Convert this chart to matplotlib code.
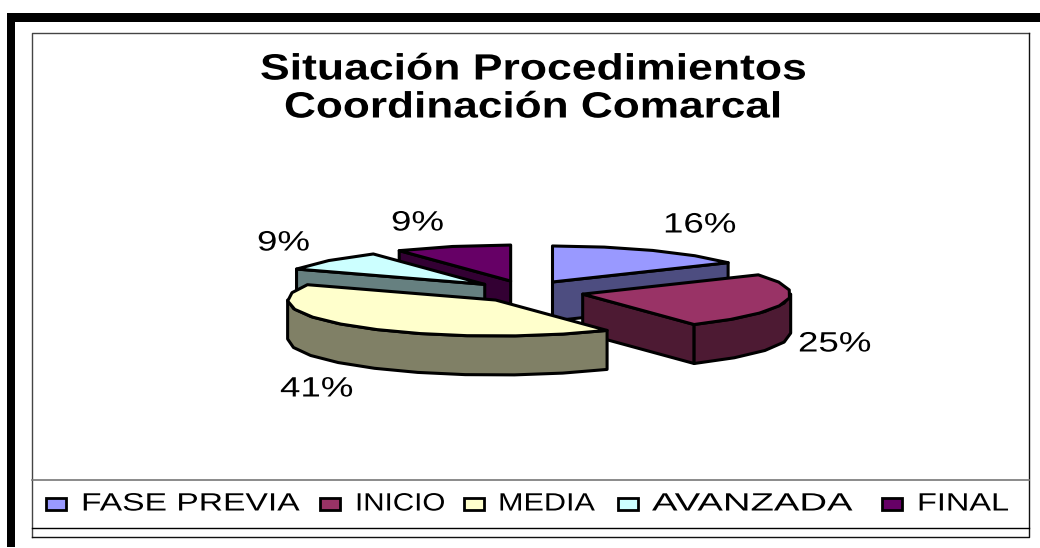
import numpy as np
import matplotlib
matplotlib.use("Agg")
import matplotlib.pyplot as plt
from matplotlib.patches import Polygon, Rectangle
from matplotlib.patheffects import AbstractPathEffect
from matplotlib.transforms import Affine2D

plt.rcParams['font.family'] = ['Liberation Sans', 'DejaVu Sans']

categories = ["FASE PREVIA", "INICIO", "MEDIA", "AVANZADA", "FINAL"]
values = [16, 25, 41, 9, 9]
percent_labels = ["16%", "25%", "41%", "9%", "9%"]
title_lines = ["Situación Procedimientos", "Coordinación Comarcal"]
top_colors = ["#9999FF", "#993366", "#FFFFCC", "#CCFFFF", "#660066"]
side_colors = ["#4D4D80", "#4D1A33", "#808066", "#668080", "#330033"]

W, H = 1040, 548
fig = plt.figure(figsize=(W / 100, H / 100), dpi=100)
ax = fig.add_axes([0, 0, 1, 1])
ax.set_xlim(0, W)
ax.set_ylim(H, 0)
ax.axis("off")


class HStretch(AbstractPathEffect):
    def __init__(self, sx):
        super().__init__()
        self.sx = sx

    def draw_path(self, renderer, gc, tpath, affine, rgbFace=None):
        renderer.draw_path(gc, tpath, Affine2D().scale(self.sx, 1) + affine, rgbFace)


def label(x, y, s, px, sx, weight="normal"):
    ax.text(x, y, s, fontsize=px * 0.72, fontweight=weight, ha="left", va="baseline",
            color="black", path_effects=[HStretch(sx)], zorder=20)


# frame
ax.add_patch(Rectangle((7, 13), W - 7, 9, fc="black", ec="none", zorder=1))
ax.add_patch(Rectangle((7, 13), 8, 534, fc="black", ec="none", zorder=1))
ax.plot([32, 32, 1029], [537, 33, 33], color="#444444", lw=1.0, zorder=2)
ax.plot([1029, 1029, 32], [33, 537, 537], color="#111111", lw=1.0, zorder=2)
ax.plot([32, 1029], [480, 480], color="#777777", lw=1.2, zorder=2)
ax.plot([32, 1029], [528, 528], color="black", lw=1.0, zorder=2)

# pie geometry
RX, RY, DEPTH = 208, 36, 39
CX, CY = 526, 291.7
EX, EY = 55, 11.1
NUDGE = [0, 3, 6, 0, 0]
STEP = 13

total = sum(values)
edges = np.concatenate([[0], np.cumsum(values)]) / total * 360
order = [0, 4, 3, 1, 2]


def rim(apex, a0, a1):
    n = max(2, int(round((a1 - a0) / STEP)) + 1)
    t = np.radians(np.linspace(a0, a1, n))
    return np.column_stack([apex[0] + RX * np.sin(t), apex[1] - RY * np.cos(t)])


for k, i in enumerate(order):
    a0, a1 = edges[i], edges[i + 1]
    mid = np.radians((a0 + a1) / 2)
    apex = (CX + EX * np.sin(mid) + NUDGE[i], CY - EY * np.cos(mid))
    z = 10 + k
    r = rim(apex, a0, a1)
    down = np.array([0, DEPTH])
    kw = dict(fc=side_colors[i], ec="black", lw=2.2, joinstyle="round", zorder=z)
    # radial faces
    if np.cos(np.radians(a0 - 90)) < 0:
        ax.add_patch(Polygon([apex, r[0], r[0] + down, np.array(apex) + down], **kw))
    if np.cos(np.radians(a1 + 90)) < 0:
        ax.add_patch(Polygon([apex, r[-1], r[-1] + down, np.array(apex) + down], **kw))
    # rim face
    lo, hi = max(a0, 90), min(a1, 270)
    if lo < hi:
        f = rim(apex, lo, hi)
        ax.add_patch(Polygon(np.vstack([f, (f + down)[::-1]]), **kw))
    ax.add_patch(Polygon(np.vstack([[apex], r]), fc=top_colors[i], ec="black", lw=2.2,
                         joinstyle="round", zorder=z))

# title
label(260, 79.5, title_lines[0], 36.5, 1.22, "bold")
label(284, 117.5, title_lines[1], 36.5, 1.21, "bold")

# data labels
label(663, 232.5, percent_labels[0], 28, 1.31)
label(798, 351.5, percent_labels[1], 28, 1.31)
label(280, 396.5, percent_labels[2], 28, 1.31)
label(257, 250.5, percent_labels[3], 28, 1.31)
label(391, 230.5, percent_labels[4], 28, 1.31)

# legend
sw_x = [45.5, 319.5, 463.5, 617.5, 881.5]
tx_x = [81, 355, 498, 652, 917]
tx_s = [1.345, 1.183, 1.224, 1.53, 1.30]
for i in range(5):
    ax.add_patch(Rectangle((sw_x[i], 497.5), 20, 12.5, fc=top_colors[i], ec="black", lw=2, zorder=5))
    label(tx_x[i], 510.5, categories[i], 25, tx_s[i])

fig.savefig("out.png", dpi=100, facecolor="white")
